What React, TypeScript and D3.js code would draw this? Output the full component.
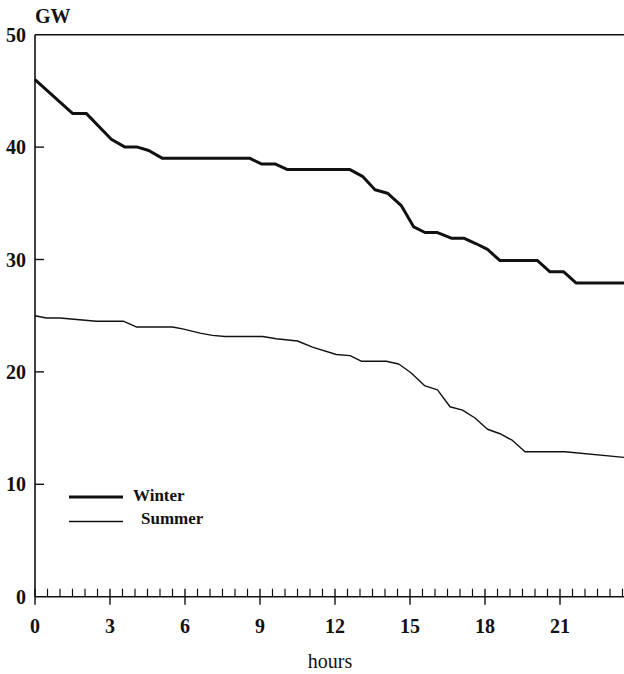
import React from "react";
import * as d3 from "d3";

const winterHours = [0, 1.5, 2.05, 3.05, 3.6, 4.1, 4.55, 5.1, 8.6, 9.05, 9.6, 10.1, 12.6, 13.1, 13.6, 14.1, 14.65, 15.15, 15.6, 16.1, 16.65, 17.15, 17.65, 18.1, 18.6, 20.1, 20.6, 21.15, 21.65, 24];
const winterGW = [46, 43, 43, 40.7, 40, 40, 39.7, 39, 39, 38.5, 38.5, 38, 38, 37.4, 36.2, 35.9, 34.8, 32.9, 32.4, 32.4, 31.9, 31.9, 31.4, 30.9, 29.9, 29.9, 28.9, 28.9, 27.9, 27.9];

const summerHours = [0, 0.45, 1.0, 2.45, 3.55, 4.05, 5.5, 5.95, 6.6, 7.1, 7.6, 9.1, 9.65, 10.5, 11.1, 12.05, 12.6, 13.05, 14.05, 14.55, 15.05, 15.6, 16.1, 16.6, 17.1, 17.6, 18.1, 18.6, 19.1, 19.6, 21.2, 24];
const summerGW = [25, 24.8, 24.8, 24.5, 24.5, 24, 24, 23.8, 23.45, 23.25, 23.15, 23.15, 22.95, 22.75, 22.2, 21.55, 21.45, 20.95, 20.95, 20.7, 19.9, 18.75, 18.4, 16.9, 16.6, 15.9, 14.9, 14.5, 13.9, 12.9, 12.9, 12.3];

const xMajorTicks = [0, 3, 6, 9, 12, 15, 18, 21];
const yTicks = [0, 10, 20, 30, 40, 50];
const legendLabels = ["Winter", "Summer"];

const W = 624;
const H = 674;
const FONT = "Liberation Serif, Tinos, DejaVu Serif, serif";

export default function App() {
  const x = d3.scaleLinear().domain([0, 24]).range([35, 635]);
  const y = d3.scaleLinear().domain([0, 50]).range([596.7, 34.7]);

  const line = d3
    .line<[number, number]>()
    .x((d) => x(d[0]))
    .y((d) => y(d[1]));

  const winter = winterHours.map((h, i) => [h, winterGW[i]] as [number, number]);
  const summer = summerHours.map((h, i) => [h, summerGW[i]] as [number, number]);

  const minorTicks = d3.range(0, 24.01, 0.5).filter((t) => t % 3 !== 0);

  const x0 = x(0);
  const yBase = y(0);
  const txt = { fontFamily: FONT, fill: "#111" } as const;

  return (
    <svg
      width={W}
      height={H}
      style={{ position: "absolute", left: 0, top: 0, background: "#fff" }}
    >
      <rect width={W} height={H} fill="#fff" />
      <line x1={x0} x2={W + 2} y1={y(50)} y2={y(50)} stroke="#111" strokeWidth={1.4} />
      <line x1={x0} x2={x0} y1={y(50)} y2={yBase} stroke="#111" strokeWidth={1.6} />
      <line x1={x0} x2={W + 2} y1={yBase} y2={yBase} stroke="#111" strokeWidth={1.6} />

      {yTicks.map((t) => (
        <g key={"y" + t}>
          {t > 0 && t < 50 && (
            <line x1={x0} x2={x0 + 9} y1={y(t)} y2={y(t)} stroke="#111" strokeWidth={1.4} />
          )}
          <text x={x0 - 9} y={y(t)} dy="0.35em" textAnchor="end" fontWeight="bold" fontSize={20} style={txt}>
            {t}
          </text>
        </g>
      ))}

      {minorTicks.map((t) => (
        <line key={"m" + t} x1={x(t)} x2={x(t)} y1={yBase} y2={yBase - 8} stroke="#111" strokeWidth={1.2} />
      ))}
      {xMajorTicks.map((t) => (
        <g key={"x" + t}>
          <line x1={x(t)} x2={x(t)} y1={yBase - 8} y2={yBase + 8} stroke="#111" strokeWidth={1.4} />
          <text x={x(t)} y={633} textAnchor="middle" fontWeight="bold" fontSize={20} style={txt}>
            {t}
          </text>
        </g>
      ))}

      <text x={35} y={23} fontWeight="bold" fontSize={20} style={txt}>
        GW
      </text>
      <text x={330} y={668} textAnchor="middle" fontSize={20} style={txt}>
        hours
      </text>

      <path d={line(winter) || ""} fill="none" stroke="#111" strokeWidth={3} strokeLinejoin="round" />
      <path d={line(summer) || ""} fill="none" stroke="#111" strokeWidth={1.4} strokeLinejoin="round" />

      <line x1={69} x2={123} y1={497} y2={497} stroke="#111" strokeWidth={3} />
      <text x={133} y={501} fontWeight="bold" fontSize={17} style={txt}>
        {legendLabels[0]}
      </text>
      <line x1={69} x2={123} y1={521.5} y2={521.5} stroke="#111" strokeWidth={1.4} />
      <text x={141} y={524} fontWeight="bold" fontSize={17} style={txt}>
        {legendLabels[1]}
      </text>
    </svg>
  );
}
